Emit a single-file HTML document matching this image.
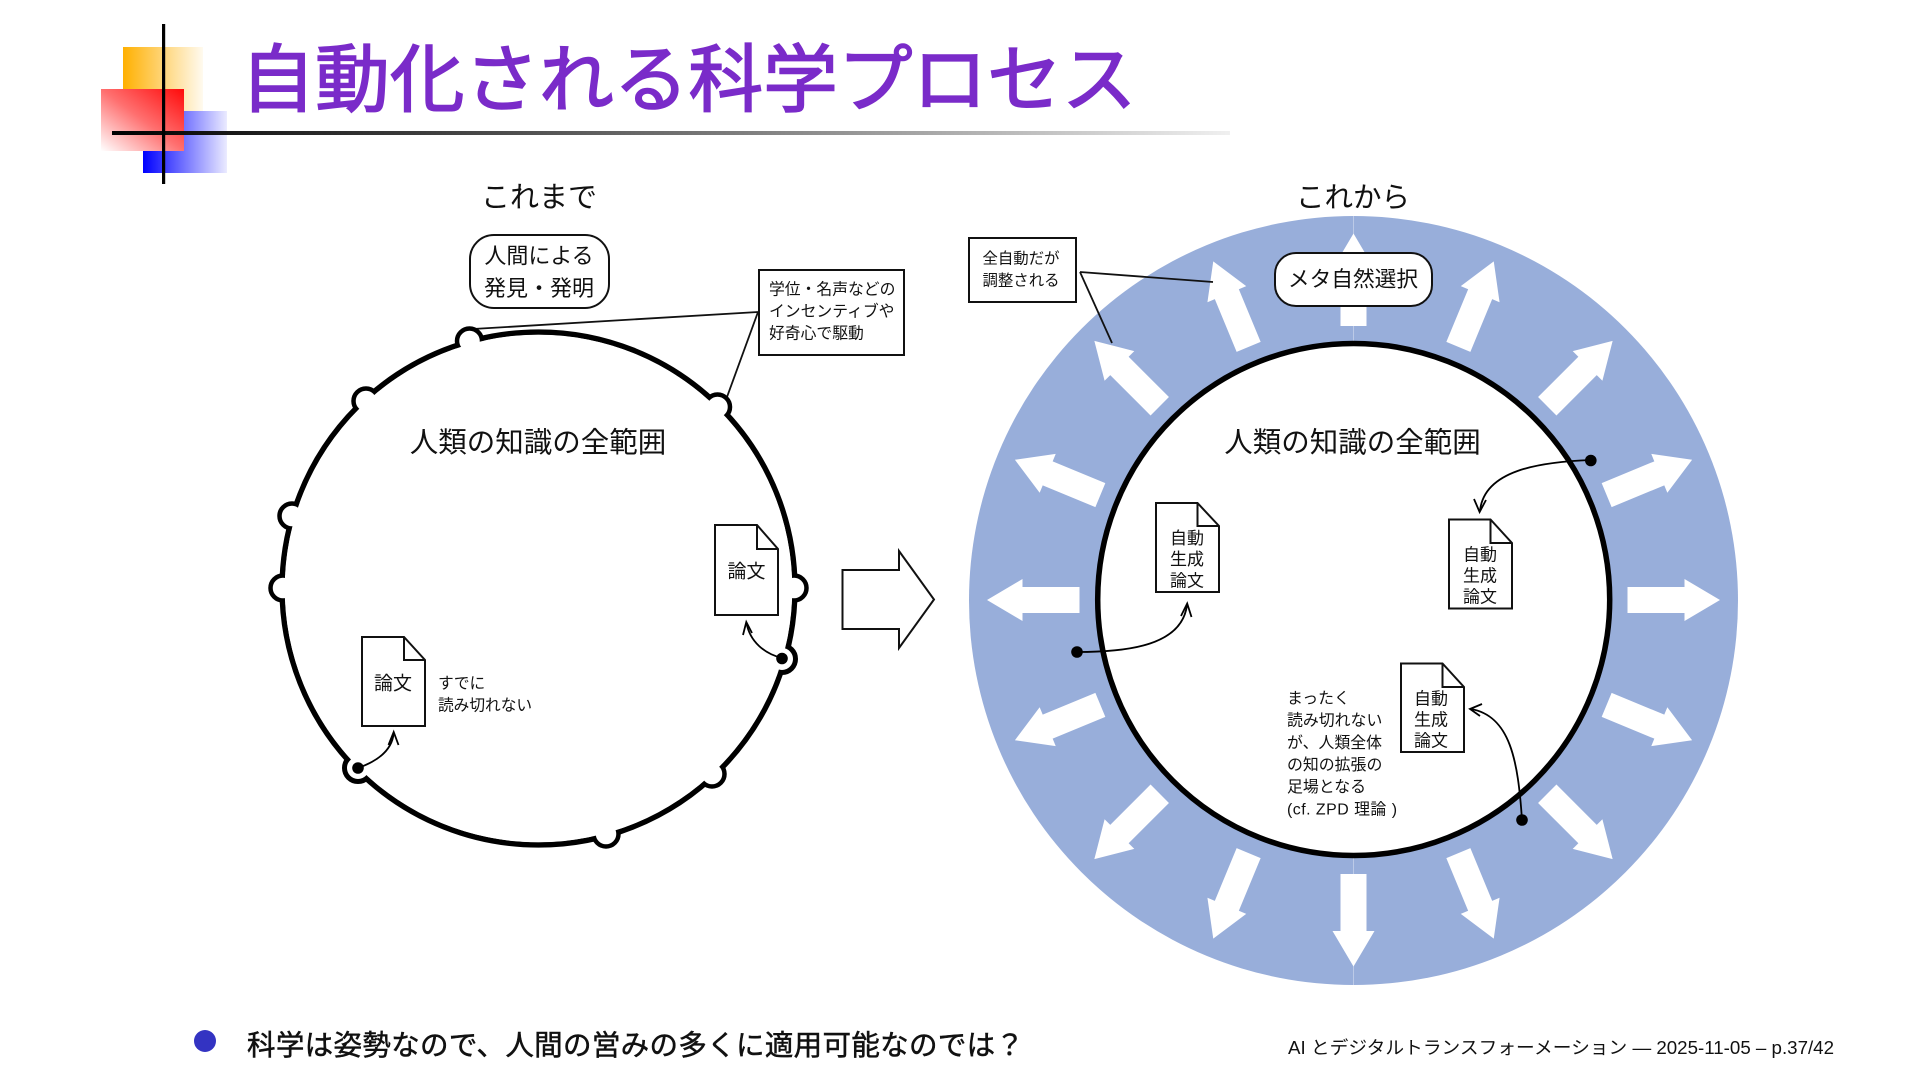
<!DOCTYPE html>
<html><head><meta charset="utf-8"><style>
html,body{margin:0;padding:0;background:#fff}
svg{display:block}
text{font-family:"Liberation Sans","Noto Sans CJK JP",sans-serif;fill:#111;dominant-baseline:central}
.c{text-anchor:middle}
</style></head><body>
<svg width="1920" height="1081" viewBox="0 0 1920 1081" xmlns="http://www.w3.org/2000/svg">
<defs>
<linearGradient id="or" x1="0" x2="1" y1="0" y2="0"><stop offset="0" stop-color="#ffb000"/><stop offset="1" stop-color="#ffb000" stop-opacity="0.06"/></linearGradient>
<linearGradient id="re" x1="1" x2="0" y1="0" y2="1"><stop offset="0" stop-color="#ff0a0a"/><stop offset="0.5" stop-color="#ff7070"/><stop offset="1" stop-color="#ffffff"/></linearGradient>
<linearGradient id="bl" x1="0" x2="1" y1="0" y2="0"><stop offset="0" stop-color="#0000ff"/><stop offset="1" stop-color="#0000ff" stop-opacity="0.08"/></linearGradient>
<linearGradient id="hl" x1="0" x2="1" y1="0" y2="0"><stop offset="0" stop-color="#000"/><stop offset="0.15" stop-color="#222"/><stop offset="1" stop-color="#000" stop-opacity="0.06"/></linearGradient>
<polygon id="ar" points="-13,-274 13,-274 13,-331 21,-331 0,-366.5 -21,-331 -13,-331" fill="#fff"/>
</defs>

<!-- logo -->
<rect x="123" y="47" width="80" height="64" fill="url(#or)"/>
<rect x="143" y="111" width="84" height="62" fill="url(#bl)"/>
<rect x="101" y="89" width="83" height="62" fill="url(#re)"/>
<rect x="112" y="131" width="1118" height="4" fill="url(#hl)"/>
<rect x="162" y="24" width="3.2" height="160" fill="#000"/>
<text x="240.5" y="80" font-size="74" textLength="896" lengthAdjust="spacingAndGlyphs" style="fill:#7a2bc9;stroke:#7a2bc9;stroke-width:1.6">自動化される科学プロセス</text>

<!-- left -->
<text class="c" x="539" y="198" font-size="29">これまで</text>
<rect x="470" y="235" width="139" height="73" rx="24" fill="#fff" stroke="#111" stroke-width="2"/>
<text class="c" x="539" y="256" font-size="22">人間による</text>
<text class="c" x="539" y="288.5" font-size="22">発見・発明</text>
<line x1="758" y1="312" x2="473" y2="329" stroke="#111" stroke-width="1.8"/>
<line x1="758" y1="312" x2="727" y2="397" stroke="#111" stroke-width="1.8"/>
<rect x="759" y="270" width="145" height="85" fill="#fff" stroke="#111" stroke-width="2"/>
<text x="769" y="290" font-size="15.8">学位・名声などの</text>
<text x="769" y="312" font-size="15.8">インセンティブや</text>
<text x="769" y="334" font-size="15.8">好奇心で駆動</text>

<circle cx="538.5" cy="588.5" r="256.4" fill="none" stroke="#000" stroke-width="5.5"/>
<g fill="#fff" stroke="#000" stroke-width="4.5">
<circle cx="469.5" cy="341" r="12.5"/>
<circle cx="366" cy="401" r="12.5"/>
<circle cx="717.5" cy="407" r="12.5"/>
<circle cx="292" cy="516" r="12.5"/>
<circle cx="283" cy="588" r="12.5"/>
<circle cx="794" cy="588" r="12.5"/>
<circle cx="782" cy="659" r="13.5" stroke-width="5"/>
<circle cx="358" cy="768" r="13.5" stroke-width="5"/>
<circle cx="712" cy="774" r="12.5"/>
<circle cx="606" cy="834" r="12.5"/>
</g>
<circle cx="538.5" cy="588.5" r="253.8" fill="#fff"/>
<circle cx="782" cy="658.5" r="5.8" fill="#000"/>
<circle cx="358" cy="768" r="5.8" fill="#000"/>
<text class="c" x="538" y="443" font-size="28.5">人類の知識の全範囲</text>

<g fill="#fff" stroke="#111" stroke-width="2">
<path d="M362,637H404L425,660V726H362Z"/><path d="M404,637V660H425" fill="none"/>
<path d="M715,525H757L778,549V615H715Z"/><path d="M757,525V549H778" fill="none"/>
</g>
<text class="c" x="393" y="684" font-size="19">論文</text>
<text class="c" x="746.5" y="572" font-size="19">論文</text>
<text x="438" y="684" font-size="15.7">すでに</text>
<text x="438" y="706" font-size="15.7">読み切れない</text>
<g fill="none" stroke="#000" stroke-width="1.8">
<path d="M358,768C375,762 392,752 393.7,733"/><path d="M388.5,745L393.7,732L398.5,745"/>
<path d="M782,658C765,654 750,642 746.5,623"/><path d="M743,635L746.3,622L752,633"/>
</g>
<polygon points="842.5,570 899,570 899,551 934,599.5 899,648 899,629 842.5,629" fill="#fff" stroke="#111" stroke-width="2"/>

<!-- right -->
<circle cx="1353.5" cy="600.5" r="384.5" fill="#98aeda"/>
<line x1="1353.5" y1="216" x2="1353.5" y2="985" stroke="#fff" stroke-opacity="0.35" stroke-width="1"/>
<g transform="translate(1353.5 600)">
<use href="#ar"/>
<use href="#ar" transform="rotate(22.5)"/><use href="#ar" transform="rotate(45)"/><use href="#ar" transform="rotate(67.5)"/>
<use href="#ar" transform="rotate(90)"/><use href="#ar" transform="rotate(112.5)"/><use href="#ar" transform="rotate(135)"/>
<use href="#ar" transform="rotate(157.5)"/><use href="#ar" transform="rotate(180)"/><use href="#ar" transform="rotate(202.5)"/>
<use href="#ar" transform="rotate(225)"/><use href="#ar" transform="rotate(247.5)"/><use href="#ar" transform="rotate(270)"/>
<use href="#ar" transform="rotate(292.5)"/><use href="#ar" transform="rotate(315)"/><use href="#ar" transform="rotate(337.5)"/>
</g>
<circle cx="1353.7" cy="599.5" r="256" fill="#fff" stroke="#000" stroke-width="5.5"/>
<text class="c" x="1353" y="198" font-size="28.5">これから</text>
<rect x="1275" y="253" width="157" height="53" rx="21" fill="#fff" stroke="#111" stroke-width="2"/>
<text class="c" x="1353" y="279" font-size="21.7">メタ自然選択</text>
<line x1="1080" y1="272" x2="1213" y2="282" stroke="#111" stroke-width="1.8"/>
<line x1="1080" y1="272" x2="1112" y2="343" stroke="#111" stroke-width="1.8"/>
<rect x="969" y="238" width="107" height="64" fill="#fff" stroke="#111" stroke-width="2"/>
<text class="c" x="1021" y="259" font-size="15.4">全自動だが</text>
<text class="c" x="1021" y="281" font-size="15.4">調整される</text>
<text class="c" x="1352.5" y="443" font-size="28.5">人類の知識の全範囲</text>

<g fill="#fff" stroke="#111" stroke-width="2">
<path d="M1156,503H1197.5L1219,526V592H1156Z"/><path d="M1197.5,503V526H1219" fill="none"/>
<path d="M1449,519.5H1490.5L1512,543V608.5H1449Z"/><path d="M1490.5,519.5V543H1512" fill="none"/>
<path d="M1401,663.5H1442.5L1464,687V752H1401Z"/><path d="M1442.5,663.5V687H1464" fill="none"/>
</g>
<g class="c" font-size="17" text-anchor="middle">
<text x="1187" y="538.5">自動</text><text x="1187" y="559.5">生成</text><text x="1187" y="581">論文</text>
<text x="1480" y="555">自動</text><text x="1480" y="576">生成</text><text x="1480" y="597">論文</text>
<text x="1431" y="699">自動</text><text x="1431" y="720">生成</text><text x="1431" y="741">論文</text>
</g>
<g font-size="15.9">
<text x="1287" y="699">まったく</text>
<text x="1287" y="721">読み切れない</text>
<text x="1287" y="743.5">が、人類全体</text>
<text x="1287" y="765.5">の知の拡張の</text>
<text x="1287" y="787.5">足場となる</text>
<text x="1287" y="810" textLength="110" lengthAdjust="spacing">(cf. ZPD 理論 )</text>
</g>
<g fill="none" stroke="#000" stroke-width="1.8">
<path d="M1590.8,460C1540,462 1484,470 1480,511"/><path d="M1474,499L1479.6,512L1486,500"/>
<path d="M1077,652C1130,652 1182,645 1187,605"/><path d="M1181,616L1187.2,603.5L1191.5,617"/>
<path d="M1522,820C1518,760 1510,716 1471,709"/><path d="M1482,704L1470,709L1480,716"/>
</g>
<circle cx="1590.8" cy="460.5" r="5.8" fill="#000"/>
<circle cx="1077" cy="652" r="5.8" fill="#000"/>
<circle cx="1522" cy="820" r="5.8" fill="#000"/>

<!-- bottom -->
<circle cx="205" cy="1041" r="11" fill="#3333c2"/>
<text x="247" y="1046" font-size="28.5" textLength="777" style="stroke:#111;stroke-width:0.5">科学は姿勢なので、人間の営みの多くに適用可能なのでは？</text>
<text x="1288" y="1048" font-size="18" textLength="546" lengthAdjust="spacingAndGlyphs">AI とデジタルトランスフォーメーション — 2025-11-05 – p.37/42</text>
</svg>
</body></html>
